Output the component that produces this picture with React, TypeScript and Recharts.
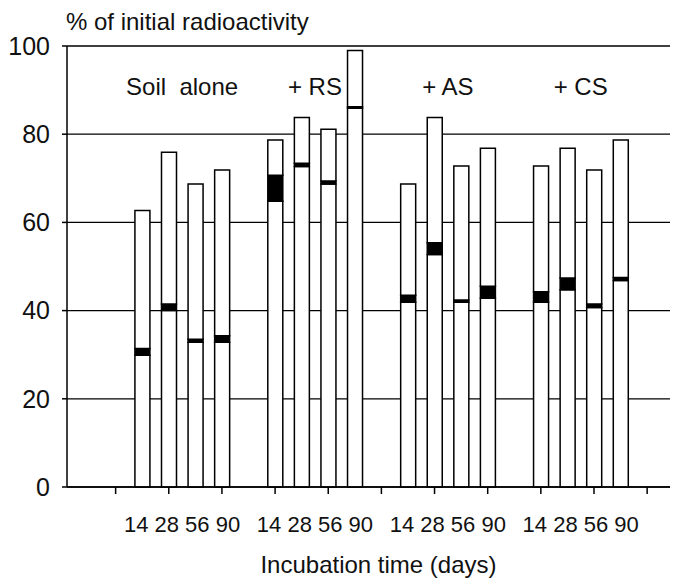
import React from "react";
import { BarChart, Bar, XAxis, YAxis, CartesianGrid, ReferenceDot } from "recharts";

const FONT = "'Liberation Sans', Arial, Helvetica, sans-serif";

// Treatments and incubation times
const groups = ["Soil\u00A0 alone", "+ RS", "+ AS", "+ CS"];
const days = ["14", "28", "56", "90"];
const yTicks = [0, 20, 40, 60, 80, 100];

// % of initial radioactivity (order: group by group, 14/28/56/90 d)
const totalPct = [62.7, 75.9, 68.7, 71.9, 78.7, 83.8, 81.1, 99.0, 68.7, 83.8, 72.8, 76.8, 72.8, 76.8, 71.9, 78.7];
// black band (lower / upper edge)
const markLow = [29.9, 40.0, 32.8, 32.8, 64.8, 72.7, 68.7, 85.9, 41.9, 52.7, 41.9, 42.8, 41.9, 44.7, 40.7, 46.8];
const markHigh = [31.4, 41.5, 33.5, 34.3, 70.7, 73.4, 69.4, 86.2, 43.5, 55.4, 42.4, 45.5, 44.3, 47.4, 41.5, 47.5];

// layout: each group takes 4 bar slots plus one empty slot
const SLOTS = days.length + 1;
const data = groups.flatMap((g, gi) =>
  days.map((d, di) => {
    const k = gi * days.length + di;
    return {
      pos: gi * SLOTS + di,
      group: g,
      day: d,
      base: markLow[k],
      mark: markHigh[k] - markLow[k],
      rest: totalPct[k] - markHigh[k],
    };
  })
);
const groupCenters = groups.map((_, gi) => gi * SLOTS + (days.length - 1) / 2);
const lastSlot = (groups.length - 1) * SLOTS + days.length - 1;
const boundaryTicks: number[] = [];
for (let t = -1; t <= lastSlot + 1; t += 2) boundaryTicks.push(t);
const X_DOMAIN: [number, number] = [-2.83, 19.86];

const titleLabel = (props: any) => {
  const vb = props.viewBox || { x: 0, y: 46, width: 67, height: 441 };
  return (
    <text x={vb.x + vb.width - 1} y={vb.y - 16.5} textAnchor="start" fontSize={24} fill="#111" fontFamily={FONT}>
      % of initial radioactivity
    </text>
  );
};

export default function App() {
  return (
    <div style={{ position: "absolute", left: 0, top: 0, width: 692, height: 578, background: "#fff", fontFamily: FONT }}>
      <BarChart width={692} height={578} data={data} margin={{ top: 46, right: 22, left: 0, bottom: 0 }}>
        <CartesianGrid vertical={false} stroke="#000" strokeWidth={1.3} />
        <XAxis
          dataKey="pos"
          type="number"
          domain={X_DOMAIN}
          allowDataOverflow
          ticks={boundaryTicks}
          interval={0}
          tickFormatter={() => ""}
          tick={{ fontSize: 1 }}
          tickSize={7}
          height={20}
          axisLine={{ stroke: "#000", strokeWidth: 1.5 }}
          tickLine={{ stroke: "#000", strokeWidth: 1.5 }}
        />
        <XAxis
          xAxisId="grp"
          dataKey="pos"
          type="number"
          domain={X_DOMAIN}
          allowDataOverflow
          ticks={groupCenters}
          interval={0}
          tickFormatter={() => days.join(" ")}
          axisLine={false}
          tickLine={false}
          tickSize={0}
          tickMargin={9}
          height={71}
          tick={{ fontSize: 22, fill: "#111", fontFamily: FONT }}
          label={{ value: "Incubation time (days)", position: "insideBottom", offset: 5, dx: 10, fontSize: 24, fill: "#111", fontFamily: FONT }}
        />
        <YAxis
          type="number"
          domain={[0, 100]}
          ticks={yTicks}
          interval={0}
          width={67}
          tickSize={5}
          tickMargin={12}
          axisLine={{ stroke: "#000", strokeWidth: 1.5 }}
          tickLine={{ stroke: "#000", strokeWidth: 1.5 }}
          tick={{ fontSize: 25, fill: "#111", fontFamily: FONT }}
          label={titleLabel}
        />
        {groups.map((g, gi) => (
          <ReferenceDot
            key={g}
            x={groupCenters[gi]}
            y={100}
            r={0}
            fill="none"
            stroke="none"
            label={{ value: g, position: "bottom", offset: 32, fontSize: 24, fill: "#111", fontFamily: FONT }}
          />
        ))}
        <Bar dataKey="base" stackId="s" barSize={15} fill="#fff" stroke="#000" strokeWidth={1.5} isAnimationActive={false} />
        <Bar dataKey="mark" stackId="s" barSize={15} fill="#000" stroke="#000" strokeWidth={1.5} isAnimationActive={false} />
        <Bar dataKey="rest" stackId="s" barSize={15} fill="#fff" stroke="#000" strokeWidth={1.5} isAnimationActive={false} />
      </BarChart>
    </div>
  );
}
